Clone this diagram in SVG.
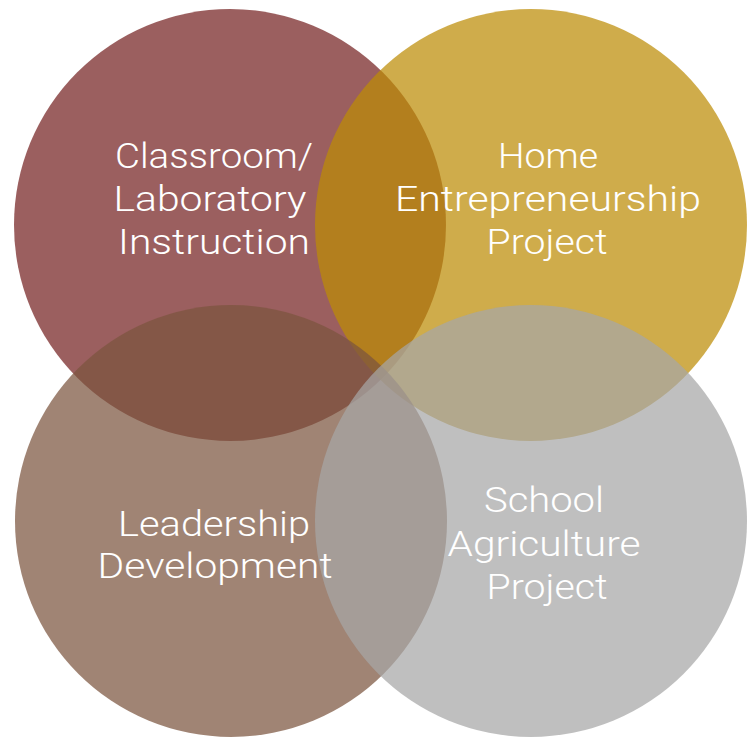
<svg xmlns="http://www.w3.org/2000/svg" width="755" height="740" viewBox="0 0 755 740">
<style>
.c{opacity:0.72}
.t{font-family:Roboto,"Noto Sans","Liberation Sans",sans-serif;font-size:35px;font-weight:300;fill:#ffffff;text-anchor:middle}
</style>
<rect width="755" height="740" fill="#ffffff"/>
<g id="classroom">
<circle class="c" cx="230" cy="225" r="216" fill="#742121"/>
</g>
<g id="home">
<circle class="c" cx="531" cy="225" r="216" fill="#bc8c06"/>
</g>
<g id="leadership">
<circle class="c" cx="231" cy="521" r="216" fill="#7b543e"/>
</g>
<g id="school">
<circle class="c" cx="531" cy="521" r="216" fill="#a6a6a6"/>
</g>
<g id="labels">
<text class="t" x="214" y="168" textLength="198" lengthAdjust="spacingAndGlyphs">Classroom/</text>
<text class="t" x="210" y="211" textLength="193" lengthAdjust="spacingAndGlyphs">Laboratory</text>
<text class="t" x="214" y="254" textLength="192" lengthAdjust="spacingAndGlyphs">Instruction</text>
<text class="t" x="548" y="168" textLength="100" lengthAdjust="spacingAndGlyphs">Home</text>
<text class="t" x="548" y="211" textLength="306" lengthAdjust="spacingAndGlyphs">Entrepreneurship</text>
<text class="t" x="547" y="254" textLength="121" lengthAdjust="spacingAndGlyphs">Project</text>
<text class="t" x="214" y="536" textLength="192" lengthAdjust="spacingAndGlyphs">Leadership</text>
<text class="t" x="215" y="578" textLength="235" lengthAdjust="spacingAndGlyphs">Development</text>
<text class="t" x="544" y="512" textLength="120" lengthAdjust="spacingAndGlyphs">School</text>
<text class="t" x="544" y="556" textLength="193" lengthAdjust="spacingAndGlyphs">Agriculture</text>
<text class="t" x="547" y="599" textLength="121" lengthAdjust="spacingAndGlyphs">Project</text>
</g>
</svg>
